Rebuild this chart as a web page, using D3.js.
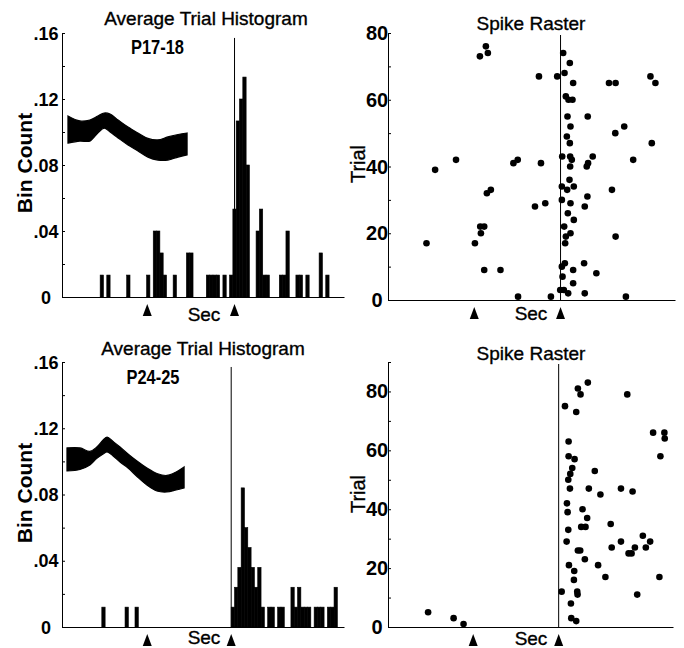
<!DOCTYPE html>
<html><head><meta charset="utf-8">
<script src="https://cdn.jsdelivr.net/npm/d3@7"></script>
<style>body{margin:0;background:#fff} svg{display:block}</style>
</head><body>
<svg id="c" width="684" height="648"></svg>
<script>
// ---------------- DATA ----------------
const histTickValues = [0, 0.04, 0.08, 0.12, 0.16];
const histTickLabels = ["0", ".04", ".08", ".12", ".16"];
const histMinorTicks = [0, 0.02, 0.04, 0.06, 0.08, 0.10, 0.12, 0.14, 0.16];
const rasterTickValues = [0, 20, 40, 60, 80];
const rasterTickLabels = ["0", "20", "40", "60", "80"];
const rasterMinorTopTicks = [0, 10, 20, 30, 40, 50, 60, 70, 80];
const rasterMinorBottomTicks = [0, 10, 20, 30, 40, 50, 60, 70, 80, 90];
const binWidthMs = 10;

// Top histogram (P17-18): bin start (ms) and bin count
const histTopBins = [-405,-385,-325,-265,-245,-235,-225,-215,-185,-145,-135,-85,-75,-65,-55,-35,-15,-5,5,15,25,35,65,75,85,95,135,145,155,185,195,215,255,275];
const histTopValues = [.0133,.0133,.0133,.0133,.04,.04,.0267,.0133,.0133,.0267,.0267,.0133,.0133,.0133,.0133,.0133,.0133,.0533,.1067,.12,.1333,.08,.04,.0533,.0133,.0133,.0133,.0133,.04,.0133,.0133,.0133,.0267,.0133];

// Bottom histogram (P24-25)
const histBotBins = [-390,-320,-290,0,10,20,30,40,50,60,70,80,90,110,120,140,150,180,190,200,210,220,230,250,260,270,290,300,310];
const histBotValues = [.012,.012,.012,.012,.024,.036,.084,.06,.048,.036,.024,.036,.012,.012,.012,.012,.012,.024,.012,.024,.012,.012,.012,.012,.012,.012,.012,.012,.024];

// Spike waveform insets (drawn in histogram coordinates)
const waveTopT = [-502,-466,-436,-412,-393,-375,-351,-321,-291,-261,-231,-201,-170,-143];
const waveTopHi = [.1097,.1067,.1073,.1097,.1115,.1109,.1073,.1030,.0994,.0961,.0952,.0970,.0985,.0994];
const waveTopLo = [.0933,.0945,.0945,.0994,.1024,.1000,.0964,.0921,.0885,.0848,.0830,.0830,.0848,.0861];
const waveBotT = [-495,-456,-426,-405,-386,-374,-356,-335,-311,-284,-254,-224,-194,-166,-142];
const waveBotHi = [.1081,.1081,.1060,.1087,.1129,.1147,.1120,.1087,.1045,.1002,.0960,.0927,.0915,.0936,.0966];
const waveBotLo = [.0942,.0951,.0978,.1018,.1045,.1057,.1033,.0996,.0960,.0909,.0857,.0821,.0815,.0827,.0839];

// Top raster: spike time (ms) and trial
const rasterTopTime = [-225,-219,-243,8,28,-65,-10,12,38,146,166,271,286,16,24,36,21,82,30,192,165,19,28,275,5,29,34,97,219,-315,-378,-142,-129,-59,29,79,83,27,4,20,40,81,155,-210,-222,4,30,73,-77,-46,22,40,11,30,16,14,166,-242,-230,-240,-258,-404,-230,-181,13,4,71,38,108,6,38,-1,10,23,73,-128,-29,197];
const rasterTopTrial = [76,74,73,74,71,67,67,68,65,65,65,67,65,61,60,60,55,55,52,52,50,49,47,47,43,43,42,43,42,42,39,41,42,41,40,40,41,36,34,33,34,31,33,33,32,30,29,28,28,29,26,24,22,20,19,17,19,22,22,20,17,17,9,9,11,10,11,9,8,7,5,3,3,2,2,1,1,1];

// Bottom raster
const rasterBotTime = [88,58,66,207,19,53,30,30,48,41,35,29,109,34,91,126,188,223,285,319,320,307,25,72,27,86,68,81,29,157,24,188,254,276,160,230,263,211,220,58,65,79,119,31,47,46,141,304,9,56,57,237,37,38,53,-394,-317,-287];
const rasterBotTrial = [83,81,79,79,75,73,63,58,57,54,52,50,53,47,47,45,47,46,66,66,64,58,42,40,39,37,34,34,33,35,29,29,31,29,27,27,27,25,25,26,26,23,21,21,19,16,17,17,12,12,11,11,8,3,2,5,3,1];

const markersHistTop = [-263, 0];
const markersHistBot = [-253, 0];
const markersRasterTop = [-260, 0];
const markersRasterBot = [-258, 0];

// ---------------- DRAWING ----------------
const svg = d3.select("#c");
const FONT = "'Liberation Sans', Arial, Helvetica, sans-serif";

function txt(g, s, x, y, size, weight, anchor, rotate) {
  const t = g.append("text").text(s)
    .attr("font-family", FONT).attr("font-size", size)
    .attr("font-weight", weight || "normal")
    .attr("text-anchor", anchor || "middle").attr("fill", "#000");
  if (weight !== "bold") t.attr("stroke", "#000").attr("stroke-width", 0.35);
  if (rotate) t.attr("transform", `translate(${x},${y}) rotate(-90)`);
  else t.attr("x", x).attr("y", y);
  return t;
}

function triangles(g, x, markers, axisY) {
  g.selectAll("path.tri").data(markers).join("path")
    .attr("d", d => {
      const cx = x(d), top = axisY + 7;
      return `M${cx - 4.5},${top + 12}L${cx},${top}L${cx + 4.5},${top + 12}Z`;
    }).attr("fill", "#000");
}

function histPanel(o) {
  const g = svg.append("g");
  const x = d3.scaleLinear().domain(o.xDomain).range([62, 344]);
  const y = d3.scaleLinear().domain([0, 0.16]).range([o.bottom, o.top]);

  // bars
  const bars = o.bins.map((b, i) => ({ t: b, v: o.values[i] }));
  g.selectAll("rect.bar").data(bars).join("rect")
    .attr("x", d => x(d.t)).attr("width", d => x(d.t + binWidthMs) - x(d.t))
    .attr("y", d => y(d.v)).attr("height", d => y(0) - y(d.v))
    .attr("fill", "#000").attr("stroke", "#000").attr("stroke-width", 0.6);

  // waveform inset
  const wave = o.waveT.map((t, i) => ({ t, hi: o.waveHi[i], lo: o.waveLo[i] }));
  const area = d3.area().x(d => x(d.t)).y0(d => y(d.lo)).y1(d => y(d.hi)).curve(d3.curveCatmullRom);
  g.append("path").datum(wave).attr("d", area).attr("fill", "#000")
    .attr("stroke", "#000").attr("stroke-width", 1.2);

  // y axis with inward minor ticks
  g.append("g").attr("transform", `translate(62,0)`)
    .call(d3.axisLeft(y).tickValues(histMinorTicks).tickSize(-3).tickSizeOuter(0).tickFormat(""))
    .call(a => a.selectAll("line,path").attr("stroke", "#000").attr("stroke-width", 1));
  // x axis baseline
  g.append("g").attr("transform", `translate(0,${o.bottom})`)
    .call(d3.axisBottom(x).tickValues([]).tickSizeOuter(0))
    .call(a => a.selectAll("path").attr("stroke", "#000").attr("stroke-width", 1.2));

  // stimulus line
  g.append("line").attr("x1", x(0)).attr("x2", x(0))
    .attr("y1", y(0.157)).attr("y2", y(0)).attr("stroke", "#000").attr("stroke-width", 1);

  triangles(g, x, o.markers, o.bottom);

  // tick labels
  histTickValues.forEach((v, i) => {
    txt(g, histTickLabels[i], 46, y(v) + 6.5, 18, "bold", "middle");
  });
  txt(g, "Average Trial Histogram", o.titleX, o.titleY, 19, "normal", "middle");
  txt(g, o.label, o.labelX, o.labelY, 20, "bold", "middle")
    .attr("textLength", 53).attr("lengthAdjust", "spacingAndGlyphs");
  txt(g, "Bin Count", 31.5, o.yLabelY, 21, "bold", "middle", true);
  txt(g, "Sec", 204, o.secY, 19, "normal", "middle");
}

function rasterPanel(o) {
  const g = svg.append("g");
  const x = d3.scaleLinear().domain(o.xDomain).range([388, o.right]);
  const y = d3.scaleLinear().domain([0, o.yMax]).range([o.bottom, o.top]);

  g.append("g").attr("transform", `translate(388,0)`)
    .call(d3.axisLeft(y).tickValues(o.minor).tickSize(-3).tickSizeOuter(0).tickFormat(""))
    .call(a => a.selectAll("line,path").attr("stroke", "#000").attr("stroke-width", 1));
  g.append("g").attr("transform", `translate(0,${o.bottom})`)
    .call(d3.axisBottom(x).tickValues([]).tickSizeOuter(0))
    .call(a => a.selectAll("path").attr("stroke", "#000").attr("stroke-width", 1.2));

  g.append("line").attr("x1", x(0)).attr("x2", x(0))
    .attr("y1", o.top + 2).attr("y2", o.bottom).attr("stroke", "#000").attr("stroke-width", 1);

  const dots = o.times.map((t, i) => ({ t, n: o.trials[i] }));
  g.selectAll("circle").data(dots).join("circle")
    .attr("cx", d => x(d.t)).attr("cy", d => y(d.n)).attr("r", 3.3).attr("fill", "#000");

  triangles(g, x, o.markers, o.bottom);

  rasterTickValues.forEach((v, i) => {
    txt(g, rasterTickLabels[i], 377, y(v) + 7, 20, "bold", "middle");
  });
  txt(g, "Spike Raster", 531, o.titleY, 19, "normal", "middle");
  txt(g, "Trial", 365, o.yLabelY, 20, "normal", "middle", true);
  txt(g, "Sec", 531, o.secY, 19, "normal", "middle");
}

histPanel({ xDomain: [-520, 330], top: 33, bottom: 297, bins: histTopBins, values: histTopValues,
  waveT: waveTopT, waveHi: waveTopHi, waveLo: waveTopLo, markers: markersHistTop,
  titleX: 206, titleY: 25, label: "P17-18", labelX: 157.5, labelY: 54, yLabelY: 163, secY: 321 });
histPanel({ xDomain: [-510, 340], top: 362, bottom: 627, bins: histBotBins, values: histBotValues,
  waveT: waveBotT, waveHi: waveBotHi, waveLo: waveBotLo, markers: markersHistBot,
  titleX: 203, titleY: 355, label: "P24-25", labelX: 153, labelY: 384, yLabelY: 493, secY: 644 });

rasterPanel({ xDomain: [-520, 345], right: 675, top: 33, bottom: 300, yMax: 80, minor: rasterMinorTopTicks,
  times: rasterTopTime, trials: rasterTopTrial, markers: markersRasterTop,
  titleY: 30, yLabelY: 164, secY: 320 });
rasterPanel({ xDomain: [-515, 345], right: 673, top: 362, bottom: 627, yMax: 90, minor: rasterMinorBottomTicks,
  times: rasterBotTime, trials: rasterBotTrial, markers: markersRasterBot,
  titleY: 360, yLabelY: 494, secY: 645 });
</script>
</body></html>
